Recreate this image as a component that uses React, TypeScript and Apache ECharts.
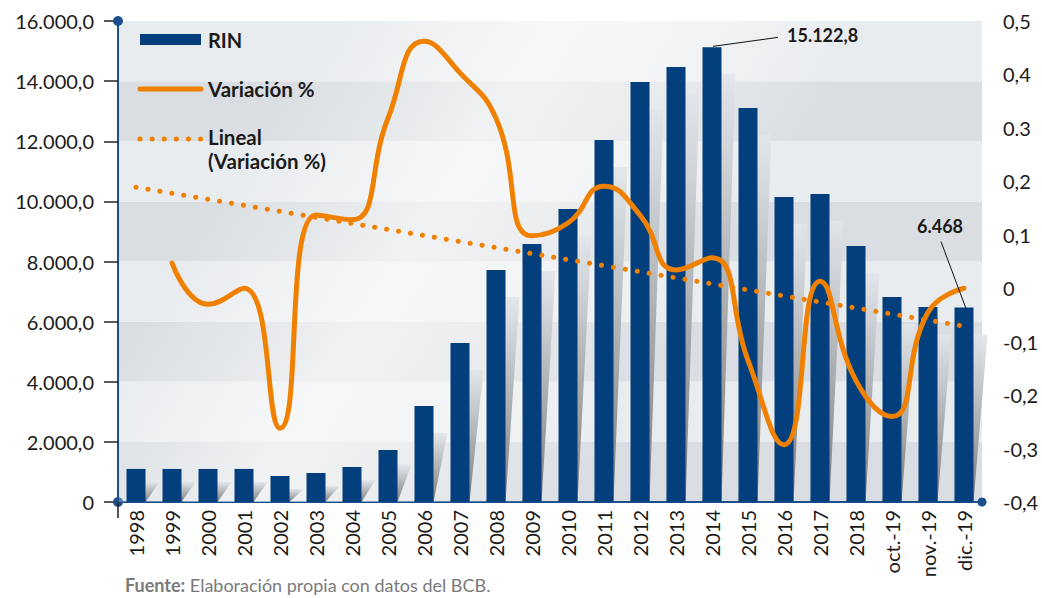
import React, { useEffect, useRef } from "react";
import * as echarts from "echarts";

const categories = [
  "1998", "1999", "2000", "2001", "2002", "2003", "2004", "2005", "2006", "2007",
  "2008", "2009", "2010", "2011", "2012", "2013", "2014", "2015", "2016", "2017",
  "2018", "oct.-19", "nov.-19", "dic.-19",
];

const rin = [
  1100, 1100, 1100, 1100, 865, 965, 1165, 1730, 3195, 5290,
  7720, 8580, 9750, 12040, 13970, 14470, 15122.8, 13105, 10145, 10245,
  8515, 6820, 6490, 6468,
];

const variacion = [
  null, 0.047, -0.03, 0.0, -0.262, 0.137, 0.128, 0.318, 0.462, 0.403,
  0.318, 0.098, 0.122, 0.191, 0.137, 0.034, 0.057, -0.135, -0.293, 0.013,
  -0.173, -0.24, -0.045, 0.0,
];

const lineal = [
  0.189, null, null, null, null, null, null, null, null, null,
  null, null, null, null, null, null, null, null, null, null,
  null, null, null, -0.071,
];

const leftTickLabels = [
  "0", "2.000,0", "4.000,0", "6.000,0", "8.000,0",
  "10.000,0", "12.000,0", "14.000,0", "16.000,0",
];
const rightTickLabels = [
  "-0,4", "-0,3", "-0,2", "-0,1", "0", "0,1", "0,2", "0.3", "0,4", "0,5",
];

const annotated = [16, 23];

const FONT = "Lato";
const BLUE = "#023f7c";
const AXIS_BLUE = "#1c4f8c";
const ORANGE = "#f08000";
const TEXT = "#1a1a1a";
const GRID = { left: 118, top: 21, right: 60, bottom: 96 };
const BAR_W = 19;

const fmt = (v: number, dec: number) => {
  const s = v.toFixed(dec);
  const [i, d] = s.split(".");
  const gi = i.replace(/\B(?=(\d{3})+(?!\d))/g, ".");
  return d ? gi + "," + d : gi;
};

export default function App() {
  const ref = useRef<HTMLDivElement>(null);

  useEffect(() => {
    if (!ref.current) return;
    const chart = echarts.init(ref.current, null, { renderer: "svg" });
    const W = 1042;
    const H = 598;
    const gw = W - GRID.left - GRID.right;
    const gh = H - GRID.top - GRID.bottom;

    const option: any = {
      animation: false,
      backgroundColor: "#ffffff",
      grid: { ...GRID, containLabel: false },
      xAxis: {
        type: "category",
        data: categories,
        axisLine: {
          show: true,
          lineStyle: { color: AXIS_BLUE, width: 2 },
          symbol: ["none", "circle"],
          symbolSize: [9, 9],
        },
        axisTick: { show: false },
        axisLabel: {
          rotate: 90,
          fontFamily: FONT,
          fontSize: 20,
          color: TEXT,
          margin: 8,
          interval: 0,
        },
        splitLine: { show: false },
      },
      yAxis: [
        {
          type: "value",
          min: 0,
          max: 16000,
          interval: 2000,
          z: 0,
          axisLine: {
            show: true,
            lineStyle: { color: AXIS_BLUE, width: 2 },
            symbol: ["circle", "circle"],
            symbolSize: [10, 10],
          },
          axisTick: {
            show: true,
            length: 14,
            lineStyle: { color: "#222", width: 1.5 },
          },
          axisLabel: {
            fontFamily: FONT,
            fontSize: 20,
            color: TEXT,
            margin: 24,
            formatter: (_v: number, i: number) => leftTickLabels[i],
          },
          splitLine: { show: false },
          splitArea: {
            show: true,
            areaStyle: { color: ["#dadee2", "#e9ecef"] },
          },
        },
        {
          type: "value",
          position: "right",
          min: -0.4,
          max: 0.5,
          interval: 0.1,
          axisLine: { show: false },
          axisTick: { show: false },
          axisLabel: {
            fontFamily: FONT,
            fontSize: 20,
            color: TEXT,
            margin: 21,
            formatter: (_v: number, i: number) => rightTickLabels[i],
          },
          splitLine: { show: false },
        },
      ],
      series: [
        {
          name: "sombra",
          type: "custom",
          z: 2,
          silent: true,
          data: rin.map((v, i) => [i, v]),
          renderItem: (_p: any, api: any) => {
            const idx = api.value(0);
            const v = api.value(1);
            const top = api.coord([idx, v]);
            const base = api.coord([idx, 0]);
            const half = BAR_W / 2;
            const h = base[1] - top[1];
            const off = Math.max(13, Math.min(27, h * 0.28));
            const dx = 14;
            const ty = top[1] + off;
            return {
              type: "polygon",
              shape: {
                points: [
                  [top[0] - half, base[1]],
                  [top[0] + half, base[1]],
                  [top[0] + half + dx, ty],
                  [top[0] - half + dx, ty],
                ],
              },
              style: {
                fill: new echarts.graphic.LinearGradient(0, 0, 0, 1, [
                  { offset: 0, color: "rgba(226,230,234,0.9)" },
                  { offset: 0.5, color: "rgba(172,175,178,0.95)" },
                  { offset: 1, color: "rgba(118,121,124,0.95)" },
                ]),
              },
            };
          },
        },
        {
          name: "RIN",
          type: "bar",
          z: 3,
          barWidth: BAR_W,
          data: rin,
          itemStyle: { color: BLUE },
        },
        {
          name: "Lineal (Variación %)",
          type: "line",
          yAxisIndex: 1,
          z: 4,
          data: lineal,
          connectNulls: true,
          showSymbol: false,
          symbol: "none",
          lineStyle: { color: ORANGE, width: 5, type: [0.1, 12], cap: "round" },
        },
        {
          name: "Variación %",
          type: "line",
          yAxisIndex: 1,
          z: 5,
          data: variacion,
          smooth: 0.5,
          showSymbol: false,
          symbol: "none",
          lineStyle: { color: ORANGE, width: 5, cap: "round" },
        },
      ],
    };
    chart.setOption(option);

    const graphics: any[] = [
      {
        type: "rect",
        z: 1,
        silent: true,
        shape: { x: GRID.left + 1, y: GRID.top, width: gw - 1, height: gh },
        style: {
          fill: new echarts.graphic.LinearGradient(0, 0, 1, 0.35, [
            { offset: 0, color: "rgba(255,255,255,0)" },
            { offset: 0.22, color: "rgba(255,255,255,0)" },
            { offset: 0.45, color: "rgba(255,255,255,0.6)" },
            { offset: 0.58, color: "rgba(255,255,255,0.45)" },
            { offset: 0.78, color: "rgba(255,255,255,0)" },
            { offset: 1, color: "rgba(255,255,255,0)" },
          ]),
        },
      },
      // legend
      { type: "rect", z: 10, shape: { x: 140, y: 34, width: 61, height: 11 }, style: { fill: BLUE } },
      { type: "text", z: 10, x: 208, y: 40, style: { text: "RIN", font: `bold 20px ${FONT}`, fill: TEXT, verticalAlign: "middle" } },
      { type: "line", z: 10, shape: { x1: 140, y1: 89, x2: 201, y2: 89 }, style: { stroke: ORANGE, lineWidth: 5, lineCap: "round" } },
      { type: "text", z: 10, x: 208, y: 89, style: { text: "Variación %", font: `bold 20.5px ${FONT}`, fill: TEXT, verticalAlign: "middle" } },
      { type: "line", z: 10, shape: { x1: 140, y1: 139, x2: 202, y2: 139 }, style: { stroke: ORANGE, lineWidth: 5, lineCap: "round", lineDash: [0.1, 12] } },
      { type: "text", z: 10, x: 208, y: 137, style: { text: "Lineal", font: `bold 20.5px ${FONT}`, fill: TEXT, verticalAlign: "middle" } },
      { type: "text", z: 10, x: 208, y: 161, style: { text: "(Variación %)", font: `bold 20.5px ${FONT}`, fill: TEXT, verticalAlign: "middle" } },
      // small tick under origin
      { type: "line", z: 10, shape: { x1: GRID.left, y1: H - GRID.bottom, x2: GRID.left, y2: H - GRID.bottom + 16 }, style: { stroke: "#222", lineWidth: 1.5 } },
      // footer
      {
        type: "text",
        z: 10,
        x: 125,
        y: 585,
        style: {
          text: "{b|Fuente:} Elaboración propia con datos del BCB.",
          font: `18px ${FONT}`,
          fill: "#7a7a7a",
          verticalAlign: "middle",
          rich: { b: { font: `bold 18px ${FONT}`, fill: "#7a7a7a" } },
        },
      },
    ];

    // annotations derived from data through the axes
    const [i0, i1] = annotated;
    const p0 = chart.convertToPixel({ xAxisIndex: 0, yAxisIndex: 0 }, [i0, rin[i0]]) as number[];
    const p1 = chart.convertToPixel({ xAxisIndex: 0, yAxisIndex: 0 }, [i1, rin[i1]]) as number[];
    graphics.push(
      { type: "line", z: 10, shape: { x1: p0[0] + 1, y1: p0[1] - 1, x2: p0[0] + 66, y2: p0[1] - 10 }, style: { stroke: "#111", lineWidth: 1 } },
      { type: "text", z: 10, x: p0[0] + 75, y: p0[1] - 12, style: { text: fmt(rin[i0], 1), font: `bold 18px ${FONT}`, fill: TEXT, verticalAlign: "middle" } },
      { type: "line", z: 10, shape: { x1: p1[0] + 2, y1: p1[1] + 1, x2: p1[0] - 23, y2: p1[1] - 66 }, style: { stroke: "#111", lineWidth: 1 } },
      { type: "text", z: 10, x: p1[0] - 24, y: p1[1] - 82, style: { text: fmt(rin[i1], 0), font: `bold 18px ${FONT}`, fill: TEXT, verticalAlign: "middle", align: "center" } },
    );
    chart.setOption({ graphic: { elements: graphics } });

    return () => chart.dispose();
  }, []);

  return (
    <div
      ref={ref}
      style={{ position: "fixed", left: 0, top: 0, width: 1042, height: 598, background: "#fff" }}
    />
  );
}
